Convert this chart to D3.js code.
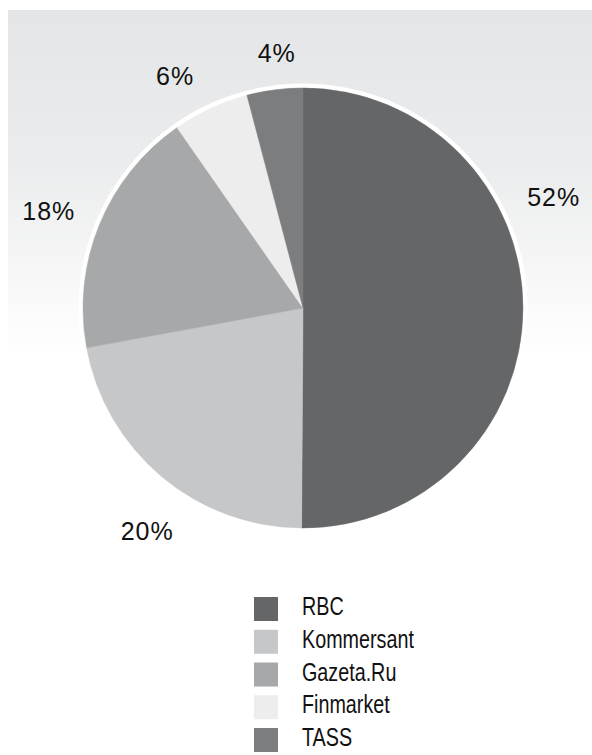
<!DOCTYPE html>
<html>
<head>
<meta charset="utf-8">
<script src="https://cdn.jsdelivr.net/npm/d3@7"></script>
<style>
  body { margin: 0; background: #fff; }
  .pct { font-family: "Liberation Sans", Arial, sans-serif; font-size: 25px; fill: #111; letter-spacing: 1px; }
  .lgnd { font-family: "Liberation Sans", Arial, sans-serif; font-size: 25px; fill: #111; }
</style>
</head>
<body>
<script>

// shares as drawn (the printed labels are rounded differently)
var outlets = ['RBC', 'Kommersant', 'Gazeta.Ru', 'Finmarket', 'TASS'];
var shares = [50.1, 22.0, 18.2, 5.6, 4.1];
var pctLabels = ['52%', '20%', '18%', '6%', '4%'];

var colours = ['#656668', '#c6c7c9', '#a7a8aa', '#ecedec', '#7c7d7f'];

// label placement: nudge from slice mid-angle (deg) and distance from centre
var lblNudge = [-24, -5, -1.5, -4, 1.5];
var lblDist = [274, 272, 272, 265, 256];

var W = 592, H = 755;
var cx = 303, cy = 308, R = 220;

var svg = d3.select('body').append('svg')
      .attr('width', W)
      .attr('height', H);

var grad = svg.append('defs').append('linearGradient')
    .attr('id', 'bg')
    .attr('x1', 0).attr('y1', 0).attr('x2', 0).attr('y2', 1);
grad.append('stop').attr('offset', '0%').attr('stop-color', '#e4e5e6');
grad.append('stop').attr('offset', '45%').attr('stop-color', '#ebeced');
grad.append('stop').attr('offset', '100%').attr('stop-color', '#ffffff');

svg.append('rect')
    .attr('x', 8)
    .attr('y', 10)
    .attr('width', W - 8)
    .attr('height', 345)
    .attr('fill', 'url(#bg)');

var g = svg.append('g')
    .attr('transform', 'translate(' + cx + ',' + cy + ')');

// white ring round the pie
g.append('circle')
    .attr('r', R + 4.5)
    .attr('fill', '#fff');

var pie = d3.pie().sort(null).value(function(d) { return d; });
var arcs = pie(shares);

var arc = d3.arc().innerRadius(0).outerRadius(R);

g.selectAll('.slice')
    .data(arcs)
    .enter().append('path')
    .attr('class', 'slice')
    .attr('d', arc)
    .attr('fill', function(d, i) { return colours[i]; })
    .attr('stroke', function(d, i) { return colours[i]; })
    .attr('stroke-width', 0.5);

g.selectAll('.pct')
    .data(arcs)
    .enter().append('text')
    .attr('class', 'pct')
    .attr('text-anchor', 'middle')
    .attr('dy', '0.36em')
    .attr('x', function(d, i) {
        var a = (d.startAngle + d.endAngle) / 2 + lblNudge[i] * Math.PI / 180;
        return Math.sin(a) * lblDist[i];
    })
    .attr('y', function(d, i) {
        var a = (d.startAngle + d.endAngle) / 2 + lblNudge[i] * Math.PI / 180;
        return -Math.cos(a) * lblDist[i];
    })
    .text(function(d, i) { return pctLabels[i]; });

// legend
var ly = d3.scaleBand()
    .domain(outlets)
    .range([597, 597 + 32.75 * outlets.length]);

var leg = svg.selectAll('.legrow')
    .data(outlets)
    .enter().append('g')
    .attr('class', 'legrow')
    .attr('transform', function(d) { return 'translate(254,' + ly(d) + ')'; });

leg.append('rect')
    .attr('width', 24)
    .attr('height', 24)
    .attr('fill', function(d, i) { return colours[i]; });

// condensed look: squeeze the regular face horizontally
leg.append('text')
    .attr('class', 'lgnd')
    .attr('transform', 'translate(48,18) scale(0.79,1)')
    .text(function(d) { return d; });

</script>
</body>
</html>
